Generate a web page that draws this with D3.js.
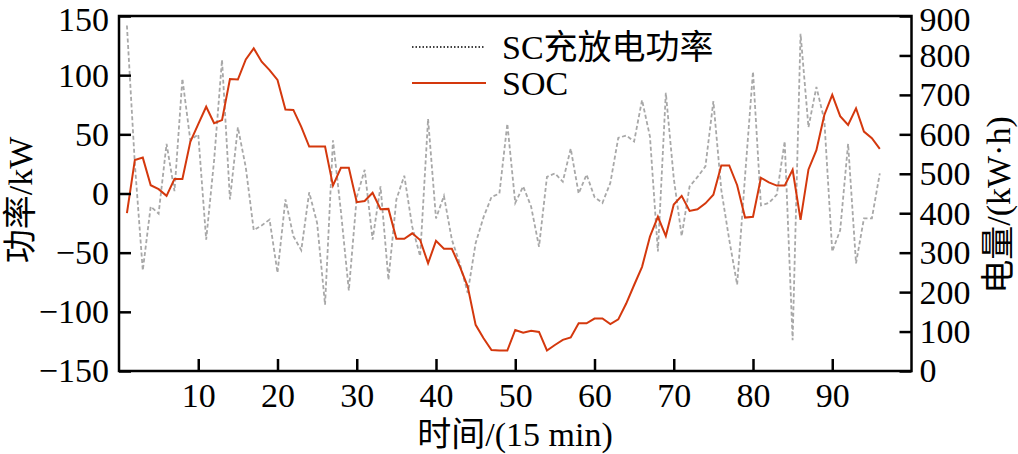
<!DOCTYPE html>
<html><head><meta charset="utf-8">
<script src="https://cdn.jsdelivr.net/npm/d3@7"></script>
<style>
body{margin:0;background:#fff;}
svg text{font-family:"Liberation Serif","Times New Roman","Noto Sans CJK SC",serif;fill:#000;}
</style></head>
<body>
<svg id="chart" width="1018" height="454"></svg>
<script>
const timeSteps = d3.range(1, 97);
const scPower = [142,25,-65,-11,-17,42,2,97,45,50,-39,28,113,-5,56,22,-31,-27,-22,-67,
 -5,-36,-48,1,-25,-94,45,-15,-82,-3,20,-39,6,-73,-5,15,-28,-53,63,-21,
 -2,-39,-59,-84,-42,-20,-3,0,59,-8,6,-11,-45,14,17,10,38,0,16,-3,
 -8,9,47,49,44,79,48,-49,85,13,-36,6,14,23,78,3,-39,-77,15,103,
 -10,-8,-1,44,-124,135,56,90,62,-49,-31,42,-59,-21,-21,17];
const socEnergy = [400,535,541,471,461,444,487,487,581,626,670,628,636,740,739,790,818,784,763,738,
 663,662,619,569,569,569,470,515,515,428,431,452,410,411,335,335,349,332,273,330,
 310,310,265,214,117,83,53,52,52,104,97,102,99,52,66,79,85,121,121,133,
 133,119,131,171,218,264,341,391,342,422,444,406,410,425,447,521,521,471,389,391,
 490,478,470,470,510,383,511,560,649,700,646,624,666,607,590,563];
const xTicks = [10,20,30,40,50,60,70,80,90];
const leftTicks = [-150,-100,-50,0,50,100,150];
const rightTicks = [0,100,200,300,400,500,600,700,800,900];
const seriesNames = ["SC充放电功率","SOC"];
const xTitle = "时间/(15 min)";
const leftTitle = "功率/kW";
const rightTitle = "电量/(kW·h)";

const svg = d3.select("#chart");
const L = 119, R = 911.5, T = 16, B = 371;
const x = d3.scaleLinear().domain([0,100]).range([L,R]);
const yL = d3.scaleLinear().domain([-150,150]).range([B,T]);
const yR = d3.scaleLinear().domain([0,900]).range([B,T]);
const fs = 34;

// data lines
const powerLine = d3.line().x((d,i)=>x(timeSteps[i])).y(d=>yL(d));
const socLine = d3.line().x((d,i)=>x(timeSteps[i])).y(d=>yR(d));
svg.append("path").datum(scPower).attr("d",powerLine)
  .attr("fill","none").attr("stroke","#a8a8a8").attr("stroke-width",1.8)
  .attr("stroke-dasharray","4,2.5");
svg.append("path").datum(socEnergy).attr("d",socLine)
  .attr("fill","none").attr("stroke","#d4380d").attr("stroke-width",2);

// axes
const gl = svg.append("g").attr("transform",`translate(${L},0)`)
  .call(d3.axisLeft(yL).tickValues(leftTicks).tickSize(-12).tickPadding(10));
const gr = svg.append("g").attr("transform",`translate(${R},0)`)
  .call(d3.axisRight(yR).tickValues(rightTicks).tickSize(-12).tickPadding(8));
const gb = svg.append("g").attr("transform",`translate(0,${B})`)
  .call(d3.axisBottom(x).tickValues(xTicks).tickSize(-12).tickPadding(12));
[gl,gr,gb].forEach(g=>{
  g.select(".domain").remove();
  g.selectAll(".tick line").attr("stroke","#000").attr("stroke-width",2.5);
  g.selectAll(".tick text").attr("font-size",fs).attr("font-family",null);
});
// keep topmost labels inside the canvas
gl.selectAll(".tick text").filter(d=>d===150).attr("dy","0.42em");
gr.selectAll(".tick text").filter(d=>d===900).attr("dy","0.42em");
svg.append("rect").attr("x",L).attr("y",T).attr("width",R-L).attr("height",B-T)
  .attr("fill","none").attr("stroke","#000").attr("stroke-width",2.5);

// legend
const lg = svg.append("g");
lg.append("line").attr("x1",412).attr("x2",484).attr("y1",47).attr("y2",47)
  .attr("stroke","#000").attr("stroke-width",1.5).attr("stroke-dasharray","1.5,2");
lg.append("line").attr("x1",412).attr("x2",486).attr("y1",83).attr("y2",83)
  .attr("stroke","#d4380d").attr("stroke-width",2);
lg.selectAll("text").data(seriesNames).join("text")
  .attr("x",502).attr("y",(d,i)=>i===0?47:83).attr("dy","0.35em")
  .attr("font-size",fs).text(d=>d);

// titles
svg.append("text").attr("x",515).attr("y",446).attr("text-anchor","middle")
  .attr("font-size",fs).text(xTitle);
svg.append("text").attr("transform","translate(32,200) rotate(-90)")
  .attr("text-anchor","middle").attr("font-size",fs).text(leftTitle);
svg.append("text").attr("transform","translate(1010,205) rotate(-90)")
  .attr("text-anchor","middle").attr("font-size",fs).text(rightTitle);
</script>
</body></html>
